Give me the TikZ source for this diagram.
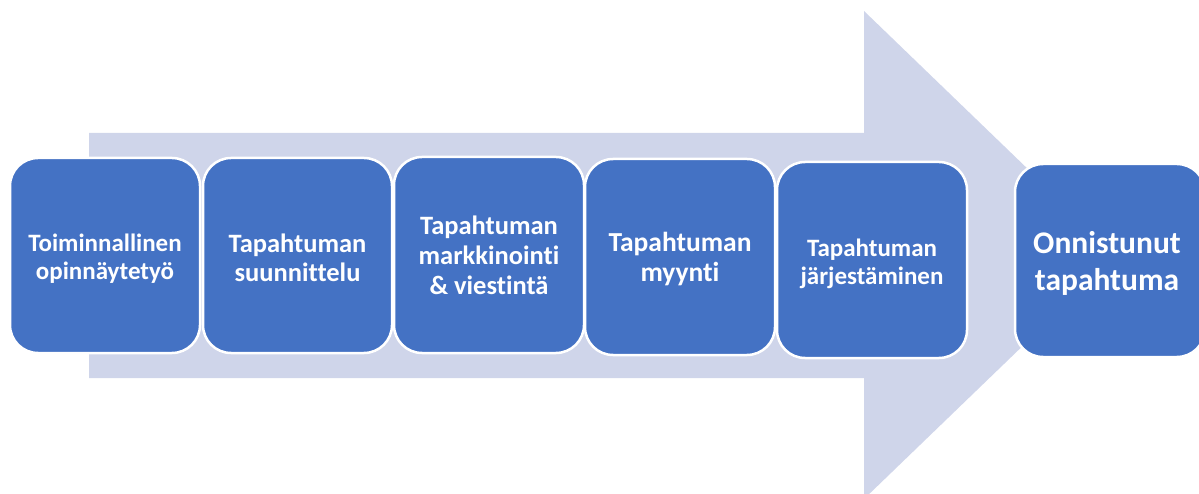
\documentclass[tikz,border=0pt]{standalone}
\usepackage{fontspec}
\setmainfont{Carlito}[RawFeature={-liga;-clig}]
\definecolor{stepblue}{HTML}{4472C4}
\definecolor{flowshade}{HTML}{CFD5EA}
\tikzset{
  stepbox/.style={draw=white, line width=2.5pt, fill=stepblue, rounded corners=28pt,
    minimum width=190pt, minimum height=195pt, inner sep=0pt},
  steptext/.style 2 args={text=white, align=center, inner sep=0pt,
    font=\bfseries\fontsize{#1}{#2}\selectfont},
}
\begin{document}
\begin{tikzpicture}[x=1pt, y=-1pt]
  \useasboundingbox (0,0) rectangle (1199,494);
  % broad background arrow
  \fill[flowshade] (89,133) -- (864,133) -- (864,11) -- (1117,255)
        -- (864,499) -- (864,378) -- (89,378) -- cycle;
  % process steps
  \node[stepbox] (s1) at (105,255.5) {};
  \node[stepbox, minimum width=189pt] (s2) at (297.5,255.5) {};
  \node[stepbox, minimum height=196pt] (s3) at (489,255) {};
  \node[stepbox, minimum height=196pt] (s4) at (680,257) {};
  \node[stepbox, minimum height=196pt] (s5) at (872,260) {};
  \node[stepbox, minimum height=193pt] (s6) at (1110,260.5) {};
  % step labels
  \node[steptext={25}{28}, yshift=-3.5pt] (t1) at (s1) {Toiminnallinen\\opinnäytetyö};
  \node[steptext={26.5}{29}, yshift=-2.5pt] (t2) at (s2) {Tapahtuman\\suunnittelu};
  \node[steptext={26.5}{30}] (t3) at (s3) {Tapahtuman\\markkinointi\\\& viestintä};
  \node[steptext={27.5}{30}, yshift=-2.5pt] (t4) at (s4) {Tapahtuman\\myynti};
  \node[steptext={25}{28}, yshift=-4pt] (t5) at (s5) {Tapahtuman\\järjestäminen};
  \node[steptext={31.5}{37}, yshift=-2.5pt] (t6) at (1107,260.5) {Onnistunut\\tapahtuma};
\end{tikzpicture}
\end{document}
